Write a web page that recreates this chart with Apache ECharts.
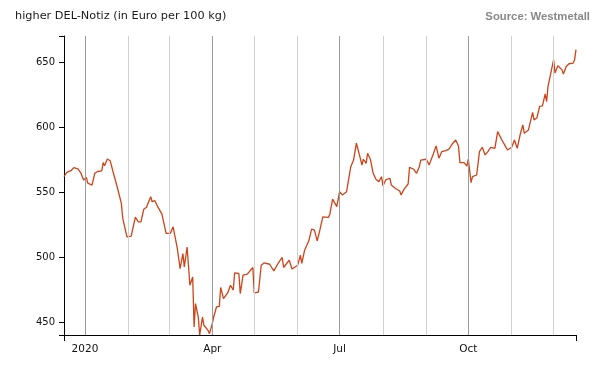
<!DOCTYPE html>
<html>
<head>
<meta charset="utf-8">
<script src="https://cdn.jsdelivr.net/npm/echarts@6/dist/echarts.min.js"></script>
<style>
  html, body { margin: 0; padding: 0; background: #fff; }
  #chart { width: 602px; height: 377px; }
</style>
</head>
<body>
<div id="chart"></div>
<script>
// price readings (Euro per 100 kg)
const dates = [
  '2019-12-17', '2019-12-19', '2019-12-22', '2019-12-24', '2019-12-27', '2019-12-29', '2019-12-31',
  '2020-01-02', '2020-01-03', '2020-01-06', '2020-01-08', '2020-01-10', '2020-01-13', '2020-01-14',
  '2020-01-15', '2020-01-17', '2020-01-19', '2020-01-21', '2020-01-24', '2020-01-27', '2020-01-28',
  '2020-01-31', '2020-02-03', '2020-02-05', '2020-02-06', '2020-02-08', '2020-02-10', '2020-02-12',
  '2020-02-14', '2020-02-15', '2020-02-17', '2020-02-18', '2020-02-20', '2020-02-22', '2020-02-25',
  '2020-02-28', '2020-03-02', '2020-03-04', '2020-03-07', '2020-03-09', '2020-03-11', '2020-03-12',
  '2020-03-14', '2020-03-16', '2020-03-18', '2020-03-19', '2020-03-20', '2020-03-22', '2020-03-23',
  '2020-03-25', '2020-03-26', '2020-03-29', '2020-03-30', '2020-04-01', '2020-04-02', '2020-04-04',
  '2020-04-06', '2020-04-07', '2020-04-09', '2020-04-12', '2020-04-14', '2020-04-16', '2020-04-17',
  '2020-04-20', '2020-04-21', '2020-04-23', '2020-04-26', '2020-04-27', '2020-04-30', '2020-05-01',
  '2020-05-04', '2020-05-06', '2020-05-08', '2020-05-12', '2020-05-15', '2020-05-18', '2020-05-21',
  '2020-05-22', '2020-05-26', '2020-05-28', '2020-06-01', '2020-06-03', '2020-06-04', '2020-06-06',
  '2020-06-09', '2020-06-11', '2020-06-13', '2020-06-15', '2020-06-17', '2020-06-19', '2020-06-23',
  '2020-06-24', '2020-06-26', '2020-06-29', '2020-07-01', '2020-07-03', '2020-07-06', '2020-07-07',
  '2020-07-09', '2020-07-11', '2020-07-13', '2020-07-15', '2020-07-17', '2020-07-18', '2020-07-20',
  '2020-07-21', '2020-07-23', '2020-07-25', '2020-07-27', '2020-07-29', '2020-07-31', '2020-08-01',
  '2020-08-03', '2020-08-06', '2020-08-07', '2020-08-10', '2020-08-13', '2020-08-14', '2020-08-16',
  '2020-08-19', '2020-08-20', '2020-08-23', '2020-08-25', '2020-08-27', '2020-08-28', '2020-09-01',
  '2020-09-03', '2020-09-06', '2020-09-08', '2020-09-10', '2020-09-12', '2020-09-15', '2020-09-17',
  '2020-09-18', '2020-09-20', '2020-09-22', '2020-09-24', '2020-09-25', '2020-09-28', '2020-09-30',
  '2020-10-01', '2020-10-03', '2020-10-04', '2020-10-07', '2020-10-09', '2020-10-11', '2020-10-13',
  '2020-10-15', '2020-10-17', '2020-10-20', '2020-10-22', '2020-10-25', '2020-10-27', '2020-10-29',
  '2020-11-01', '2020-11-03', '2020-11-05', '2020-11-07', '2020-11-09', '2020-11-10', '2020-11-13',
  '2020-11-15', '2020-11-16', '2020-11-17', '2020-11-19', '2020-11-21', '2020-11-23', '2020-11-25',
  '2020-11-26', '2020-11-27', '2020-11-29', '2020-12-01', '2020-12-02', '2020-12-04', '2020-12-07',
  '2020-12-08', '2020-12-10', '2020-12-12', '2020-12-15', '2020-12-16', '2020-12-17'
];
const prices = [
  562, 565.4, 566.6, 569, 568, 565, 559.5,
  561.5, 557, 555.6, 564.6, 566, 566.4, 572.8,
  570.5, 575.6, 574.3, 566, 554.3, 541.5, 530,
  515.8, 516.4, 526, 531, 527.4, 527.4, 537,
  538.5, 541.5, 546.6, 542.8, 543.6, 539, 533.3,
  518.5, 518.5, 523.5, 506.9, 491.5, 503, 492.8,
  508, 478.7, 485, 446.6, 464.6, 454.3, 440.5,
  454.3, 448, 444, 441.5, 449.2, 454.3, 462,
  462.5, 477, 468.5, 472.8, 478.7, 475, 488.2,
  487.7, 472.3, 486.4, 487.2, 486.4, 492.3, 472.8,
  473.5, 494, 495.8, 494.8, 489.7, 495.4, 500,
  492.3, 497.9, 491.2, 494, 501.8, 495.4, 505.6,
  512.8, 521.8, 521, 512.8, 521.5, 531.2, 530.8,
  533, 544.8, 539, 550.5, 548, 550.5, 550.5,
  569.7, 574.8, 587.7, 579.5, 571, 575.4, 572.3,
  580, 575.4, 564.6, 560, 558.2, 562, 555,
  559.5, 560.8, 555.6, 553, 551, 548, 552.3,
  556.4, 569.2, 567.7, 564.6, 569.7, 574.8, 575.4,
  571, 579.5, 585.6, 576.2, 581.2, 582, 583,
  581.8, 587.7, 590.2, 585.6, 572.8, 572.8, 570.2,
  575.5, 557.4, 562, 563.3, 581.2, 584.6, 578.7,
  581.2, 584.6, 583.8, 596.6, 590.2, 586.4, 582.5,
  584.6, 590.2, 583.8, 594, 601.8, 595.4, 597.9,
  607, 611.3, 605.6, 607, 615.9, 616.4, 625.6,
  619.7, 631.3, 641.5, 651.8, 641.5, 647.2, 644,
  640.8, 646.6, 648.7, 649.2, 651.8, 659.5
];

const monthStarts = [
  '2020-01-01', '2020-02-01', '2020-03-01', '2020-04-01', '2020-05-01', '2020-06-01',
  '2020-07-01', '2020-08-01', '2020-09-01', '2020-10-01', '2020-11-01', '2020-12-01'
];
const quarterStarts = ['2020-01-01', '2020-04-01', '2020-07-01', '2020-10-01'];
const quarterLabels = ['2020', 'Apr', 'Jul', 'Oct'];
const yTicks = [450, 500, 550, 600, 650];

const xMin = '2019-12-17';
const xMax = '2020-12-17';
const yMin = 440.5;
const yMax = 670;

// dates -> timestamps so a plain value axis can place them
const ts = s => echarts.time.parse(s).getTime();
const quarterTs = quarterStarts.map(ts);

const chart = echarts.init(document.getElementById('chart'));

chart.setOption({
    animation: false,
    title: [
        {
            text: 'higher DEL-Notiz (in Euro per 100 kg)',
            left: 15, top: 11, padding: 0,
            textStyle: { fontFamily: 'DejaVu Sans', fontSize: 11.3, fontWeight: 'normal', color: '#1a1a1a' }
        },
        {
            text: 'Source: Westmetall',
            right: 12, top: 11, padding: 0,
            textStyle: { fontFamily: 'Liberation Sans', fontSize: 11.3, fontWeight: 'bold', color: '#888' }
        }
    ],
    grid: { left: 64, right: 26, top: 36, bottom: 42 },
    xAxis: {
        type: 'value',
        min: ts(xMin),
        max: ts(xMax),
        axisLine: { lineStyle: { color: '#000', width: 1 } },
        axisTick: { show: true, length: 6, lineStyle: { color: '#000' }, customValues: [ts(xMin), ts(xMax)] },
        axisLabel: {
            customValues: quarterTs,
            formatter: v => quarterLabels[quarterTs.indexOf(v)] || '',
            fontFamily: 'DejaVu Sans', fontSize: 10.5, color: '#111', margin: 9
        },
        splitLine: { show: false }
    },
    yAxis: {
        type: 'value',
        min: yMin,
        max: yMax,
        axisLine: { show: true, lineStyle: { color: '#000', width: 1 } },
        axisTick: { show: true, length: 5, lineStyle: { color: '#000' }, customValues: [yMin].concat(yTicks, [yMax]) },
        axisLabel: {
            customValues: yTicks,
            fontFamily: 'DejaVu Sans', fontSize: 10, color: '#111', margin: 9
        },
        splitLine: { show: false }
    },
    series: [{
        type: 'line',
        data: dates.map((d, i) => [ts(d), prices[i]]),
        symbol: 'none',
        lineStyle: { color: '#cf4318', width: 1.3 },
        z: 3,
        markLine: {
            silent: true,
            symbol: 'none',
            label: { show: false },
            animation: false,
            data: monthStarts.map(m => ({
                xAxis: ts(m),
                lineStyle: {
                    type: 'solid',
                    width: 1,
                    color: quarterStarts.includes(m) ? '#9a9a9a' : '#d0d0d0'
                }
            }))
        }
    }]
});
</script>
</body>
</html>
